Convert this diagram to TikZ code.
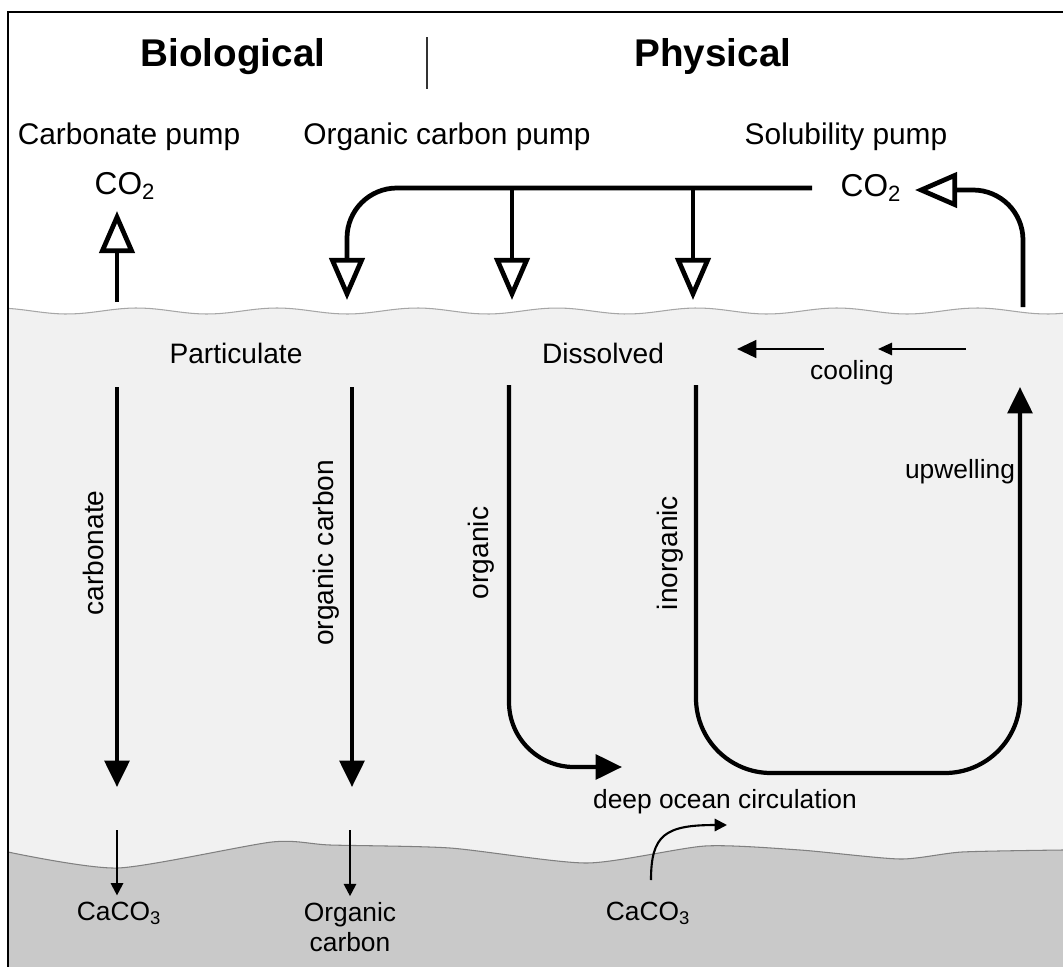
\documentclass[tikz,border=0pt]{standalone}
\usepackage{fontspec}
\setmainfont{Liberation Sans}
\usetikzlibrary{arrows.meta}
\definecolor{water}{gray}{0.945}
\definecolor{bed}{gray}{0.79}
\tikzset{
  title/.style={font=\fontsize{22}{26}\selectfont\bfseries},
  pumpname/.style={font=\fontsize{17}{20}\selectfont},
  gas/.style={font=\fontsize{18}{21}\selectfont},
  pool/.style={font=\fontsize{16}{19}\selectfont},
  note/.style={font=\fontsize{15}{17}\selectfont, align=center},
  pumparrow/.style={line width=2.7pt, -{Triangle[open, length=24pt, width=20pt]}},
  sinkarrow/.style={line width=2.4pt, -{Triangle[length=15pt, width=14pt]}},
  fallarrow/.style={line width=1.2pt, -{Triangle[length=7pt, width=7pt]}},
}
\begin{document}
\begin{tikzpicture}[x=0.02cm, y=-0.02cm]
\useasboundingbox (0,0) rectangle (1063,967);
% sea and sea floor
\fill [water] plot [domain=8:1063, samples=150] (\x,{311-3*cos((\x-137)*2.5714)}) -- (1063,967) -- (8,967) -- cycle;
\draw [gray!70, line width=0.6pt] plot [domain=8:1063, samples=150] (\x,{311-3*cos((\x-137)*2.5714)});
\fill [bed] plot [smooth, tension=0.4] coordinates {(8,852) (118,868) (272,842) (330,845) (450,848) (587,863) (705,846) (800,850) (900,859) (962,852) (1063,850)} -- (1063,967) -- (8,967) -- cycle;
\draw [gray, line width=0.6pt] plot [smooth, tension=0.4] coordinates {(8,852) (118,868) (272,842) (330,845) (450,848) (587,863) (705,846) (800,850) (900,859) (962,852) (1063,850)};
\draw [line width=0.9pt] (8,967) -- (8,12) -- (1063,12);
\draw [line width=0.8pt, black!80] (427,37) -- (427,89);

% headings
\node [title] (bio) at (233,57) {Biological};
\node [title] (phys) at (713,57) {Physical};
\node [pumpname] (carbpump) at (129,137) {Carbonate pump};
\node [pumpname] (orgpump) at (447,137) {Organic carbon pump};
\node [pumpname] (solpump) at (846,137) {Solubility pump};
\node [gas] (co2l) at (125,186) {CO\textsubscript{2}};
\node [gas] (co2r) at (871,188) {CO\textsubscript{2}};

% labels in the water
\node [pool] (partic) at (236,353) {Particulate};
\node [pool] (dissol) at (603,353) {Dissolved};
\node [pool, rotate=90] (carbl) at (93,553) {carbonate};
\node [pool, rotate=90] (orgcl) at (326,553) {organic carbon};
\node [pool, rotate=90] (orgl) at (481,553) {organic};
\node [pool, rotate=90] (inorgl) at (670,553) {inorganic};
\node [note] (cool) at (852,373) {cooling};
\node [note] (upw) at (960,472) {upwelling};
\node [note] (deep) at (725,802) {deep ocean circulation};
\node [note] (caco3l) at (119,913) {CaCO\textsubscript{3}};
\node [note] (orgsed) at (350,927) {Organic\\carbon};
\node [note] (caco3r) at (648,913) {CaCO\textsubscript{3}};

% ends of the arrows
\coordinate (srfA) at (117,302);
\coordinate (hub) at (812,188);
\coordinate (srfB) at (347,300);
\coordinate (srfC) at (512,300);
\coordinate (srfD) at (693,300);
\coordinate (srfE) at (1023,307);
\coordinate (tipE) at (915,190);
\coordinate (topA) at (117,387);
\coordinate (topB) at (352,387);
\coordinate (topC) at (509,385);
\coordinate (topD) at (696,385);
\coordinate (botA) at (117,787);
\coordinate (botB) at (352,787);
\coordinate (botC) at (622,767);
\coordinate (botD) at (1020,773);
\coordinate (upA) at (1020,387);
\coordinate (fallA) at (117,830);
\coordinate (fallB) at (350,830);
\coordinate (riseA) at (651,880);
\coordinate (riseC) at (727,825);

% air-sea exchange
\draw [pumparrow] (srfA) -- ([yshift=-3pt]co2l.south -| srfA);
\draw [pumparrow, rounded corners=1cm] (hub) -| (srfB);
\draw [pumparrow] (hub -| srfC) -- (srfC);
\draw [pumparrow] (hub -| srfD) -- (srfD);
\draw [pumparrow, rounded corners=1cm] (srfE) |- (tipE);

% export to depth
\draw [sinkarrow] (topA) -- (botA);
\draw [sinkarrow] (topB) -- (botB);
\draw [sinkarrow, rounded corners=1.3cm] (topC) |- (botC);
\draw [sinkarrow, rounded corners=1.5cm] (topD) |- (botD) -- (upA);
\draw [line width=1.6pt, -{Triangle[length=11pt, width=10pt]}] (824,349) -- (737,349);
\draw [line width=1.2pt, -{Triangle[length=8pt, width=7pt]}] (966,349) -- (878,349);

% sediments
\draw [fallarrow] (fallA) -- (caco3l.north -| fallA);
\draw [fallarrow] (fallB) -- (orgsed.north -| fallB);
\draw [fallarrow] (riseA) .. controls (651,835) and (665,825) .. (riseC);
\end{tikzpicture}
\end{document}
